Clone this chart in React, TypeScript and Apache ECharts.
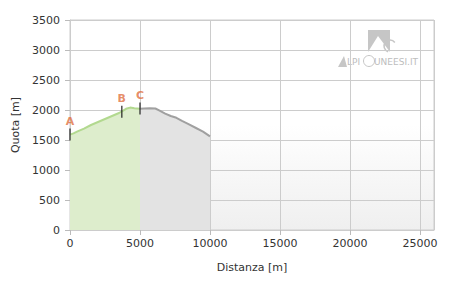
import React, { useEffect, useRef } from "react";
import * as echarts from "echarts";

const greenDist = [0, 250, 500, 1000, 1500, 2000, 2500, 3000, 3500, 3800, 4000, 4300, 4600, 5000];
const greenElev = [1590, 1610, 1640, 1690, 1750, 1800, 1850, 1900, 1950, 1990, 2020, 2040, 2030, 2020];
const grayDist = [5000, 5300, 5700, 6100, 6400, 6800, 7200, 7600, 8000, 8500, 9000, 9500, 10000];
const grayElev = [2020, 2025, 2030, 2025, 1990, 1940, 1900, 1870, 1820, 1760, 1700, 1640, 1560];
const markerNames = ["A", "B", "C"];
const markerDist = [0, 3700, 5000];
const markerElev = [1590, 1970, 2025];
const xTicks = [0, 5000, 10000, 15000, 20000, 25000];

export default function App() {
  const ref = useRef<HTMLDivElement>(null);
  useEffect(() => {
    if (!ref.current) return;
    const chart = echarts.init(ref.current, null, { renderer: "svg" });
    const font = "DejaVu Sans";
    chart.setOption({
      animation: false,
      textStyle: { fontFamily: font },
      grid: {
        left: 70,
        right: 16,
        top: 20,
        bottom: 55,
        containLabel: false,
        outerBoundsMode: "none",
        show: true,
        borderColor: "#cccccc",
        borderWidth: 1,
        backgroundColor: {
          type: "linear",
          x: 0,
          y: 0,
          x2: 0,
          y2: 1,
          colorStops: [
            { offset: 0, color: "#ffffff" },
            { offset: 0.5, color: "#ffffff" },
            { offset: 1, color: "#efefef" },
          ],
        },
      },
      xAxis: {
        type: "value",
        min: 0,
        max: 26000,
        interval: 5000,
        name: "Distanza [m]",
        nameLocation: "middle",
        nameGap: 32,
        nameTextStyle: { color: "#333", fontSize: 11, fontFamily: font },
        axisLine: { show: true, lineStyle: { color: "#cccccc" } },
        axisTick: { show: true, length: 5, lineStyle: { color: "#bbbbbb" } },
        axisLabel: {
          color: "#333",
          fontSize: 11,
          margin: 8,
          fontFamily: font,
          showMaxLabel: false,
          formatter: (v: number) => (xTicks.includes(v) ? String(v) : ""),
        },
        splitLine: { show: true, lineStyle: { color: "#cccccc" } },
      },
      yAxis: {
        type: "value",
        min: 0,
        max: 3500,
        interval: 500,
        name: "Quota [m]",
        nameLocation: "middle",
        nameGap: 49,
        nameTextStyle: { color: "#333", fontSize: 11, fontFamily: font },
        axisLine: { show: true, lineStyle: { color: "#cccccc" } },
        axisTick: { show: true, length: 5, lineStyle: { color: "#bbbbbb" } },
        axisLabel: {
          color: "#333",
          fontSize: 11,
          margin: 10,
          fontFamily: font,
          formatter: (v: number) => String(v),
        },
        splitLine: { show: true, lineStyle: { color: "#cccccc" } },
      },
      graphic: [
        {
          type: "group",
          left: 338,
          top: 30,
          silent: true,
          children: [
            { type: "rect", shape: { x: 30, y: 0, width: 22, height: 22 }, style: { fill: "#c6c6c6" } },
            { type: "polygon", shape: { points: [[30, 22], [40, 6], [52, 22]] }, style: { fill: "#ffffff" } },
            { type: "arc", shape: { cx: 52, cy: 16, r: 6, startAngle: Math.PI * 0.6, endAngle: Math.PI * 1.8 }, style: { stroke: "#c6c6c6", fill: "none", lineWidth: 1.5 } },
            { type: "polygon", shape: { points: [[0, 37], [6, 26], [9, 37]] }, style: { fill: "#c6c6c6" } },
            { type: "text", x: 9, y: 27, style: { text: "LPI", fill: "#bdbdbd", fontSize: 9, fontFamily: font } },
            { type: "circle", shape: { cx: 31, cy: 31, r: 5.5 }, style: { stroke: "#c6c6c6", fill: "none", lineWidth: 1 } },
            { type: "text", x: 36, y: 27, style: { text: "UNEESI.IT", fill: "#bdbdbd", fontSize: 9, fontFamily: font } },
          ],
        },
      ],
      series: [
        {
          type: "line",
          data: greenDist.map((d, i) => [d, greenElev[i]]),
          symbol: "none",
          lineStyle: { color: "#b2d98f", width: 2 },
          areaStyle: { color: "#ddedcc", opacity: 1 },
          z: 2,
        },
        {
          type: "line",
          data: grayDist.map((d, i) => [d, grayElev[i]]),
          symbol: "none",
          lineStyle: { color: "#a0a0a0", width: 2 },
          areaStyle: { color: "#e3e3e3", opacity: 1 },
          z: 2,
        },
        {
          type: "scatter",
          data: markerDist.map((d, i) => ({ value: [d, markerElev[i]], name: markerNames[i] })),
          symbol: "rect",
          symbolSize: [1.5, 12],
          itemStyle: { color: "#222222" },
          label: {
            show: true,
            position: "top",
            distance: 2,
            formatter: (p: any) => p.name,
            color: "#e0703f",
            fontWeight: "bold",
            fontSize: 11,
            fontFamily: font,
          },
          z: 5,
        },
      ],
    });
    return () => chart.dispose();
  }, []);
  return <div ref={ref} style={{ width: 450, height: 285, position: "absolute", left: 0, top: 0 }} />;
}
